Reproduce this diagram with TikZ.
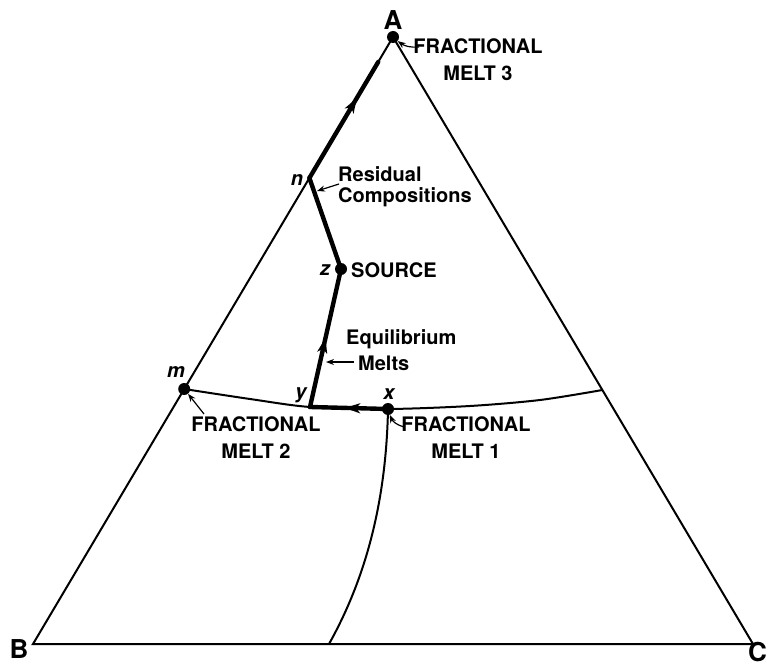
\documentclass[tikz,border=0pt]{standalone}
\usepackage{fontspec}
\setmainfont{TeX Gyre Heros}
\usetikzlibrary{arrows.meta,decorations.markings}

\begin{document}
\begin{tikzpicture}
[
  x=1pt, y=-1pt,
  side/.style={line width=2pt},
  melt/.style={line width=4.4pt,line cap=round},
  dot/.style={circle,fill=black,inner sep=0pt,minimum size=12pt},
  vert/.style={font=\fontsize{26}{26}\selectfont\bfseries,inner sep=0pt},
  lbl/.style={font=\fontsize{20}{27}\selectfont\bfseries,align=center,inner sep=0pt},
  txt/.style={font=\fontsize{20}{21}\selectfont\bfseries,align=left,inner sep=0pt,anchor=west},
  pt/.style={font=\fontsize{20}{20}\selectfont\bfseries\itshape,inner sep=0pt},
  lead/.style={line width=1.2pt,-{Stealth[length=8pt,width=6pt]}},
  midarrow/.style={postaction={decorate},decoration={markings,
    mark=at position #1 with {\arrow{Stealth[length=15pt,width=10pt,inset=4pt]}}}}
]
\useasboundingbox (0,0) rectangle (771,663);

% corners of the diagram
\node[dot] (A) at (393,37) {};
\coordinate (B) at (33,644);
\coordinate (C) at (753,644);
\node[vert] (lA) at (393,20) {A};
\node[vert] (lB) at (19,649) {B};
\node[vert,anchor=east] (lC) at (767,652) {C};

\draw[side] (B) -- (A.center) -- (C) -- cycle;

% points on the paths
\node[dot] (m) at (184.2,389) {};
\coordinate (n) at (309.4,178);
\node[dot] (z) at (341,269) {};
\coordinate (y) at (310,407);
\node[dot] (x) at (388,409) {};
\coordinate (R) at (602.4,390);
\coordinate (Q) at (329,644);
\coordinate (T) at (378.2,62);

% boundary curves
\draw[side] plot[smooth] coordinates {(184.2,389) (250,399) (310,407) (388,409) (470,406) (540,400) (602.4,390)};
\draw[side] (x.center) .. controls (386,510) and (362,585) .. (Q);

% melt paths
\draw[melt,midarrow=0.69] (n) -- (T);
\draw[melt] (n) -- (z.center);
\draw[melt,midarrow=0.5] (y) -- (z.center);
\draw[melt,midarrow=0.55] (x.center) -- (y);

\node[pt] (lm) at (176,372) {m};
\node[pt] (ln) at (297,180) {n};
\node[pt] (lz) at (325,270) {z};
\node[pt] (ly) at (301,395) {y};
\node[pt] (lx) at (389,394) {x};

% labels
\node[lbl] (melt3) at (478,60) {FRACTIONAL\\MELT 3};
\node[lbl] (melt2) at (256,438) {FRACTIONAL\\MELT 2};
\node[lbl] (melt1) at (466,438) {FRACTIONAL\\MELT 1};
\node[txt] (resid) at (338,187) {Residual\\Compositions};
\node[txt] (source) at (351,270) {SOURCE};
\node[txt] (equil) at (346,339) {Equilibrium};
\node[txt] (melts) at (358,363) {Melts};

\coordinate (t3) at (419,47);
\coordinate (t2) at (204,414);
\coordinate (t1) at (404,427);
\coordinate (tr) at (339,184);
\coordinate (hr) at (317,191);
\coordinate (tm) at (354,362);
\coordinate (hm) at (326,362);

\draw[lead] (t3) to[bend left=20] (A);
\draw[lead] (t2) -- (m);
\draw[lead] (t1) to[bend left=25] (x);
\draw[lead] (tr) -- (hr);
\draw[lead] (tm) -- (hm);
\end{tikzpicture}
\end{document}
